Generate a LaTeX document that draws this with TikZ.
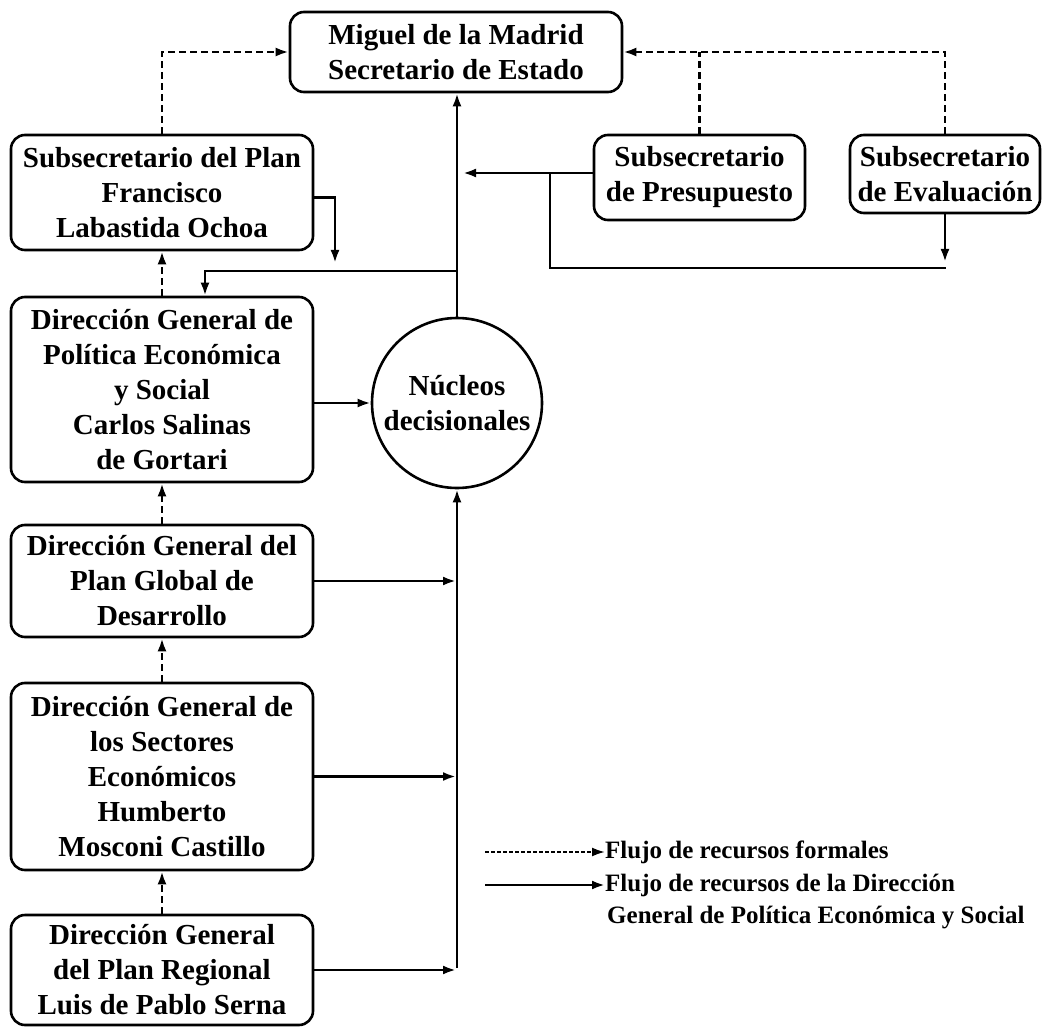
\documentclass[tikz,border=0pt]{standalone}
\usepackage{fontspec}
\setmainfont{Liberation Serif}
\usetikzlibrary{arrows.meta}

\begin{document}
\begin{tikzpicture}[x=1pt,y=-1pt,
  box/.style={draw, line width=2.6pt, rounded corners=14pt, align=center,
    inner sep=0pt, font=\bfseries\fontsize{29}{35}\selectfont},
  leftbox/.style={box, minimum width=302pt},
  flow/.style={line width=2.6pt, -{Latex[length=13pt,width=9pt]}},
  formal/.style={flow, dash pattern=on 7pt off 4pt},
  legend/.style={anchor=west, inner sep=0pt, font=\bfseries\fontsize{25}{33}\selectfont},
]
\useasboundingbox (0,0) rectangle (1042,1027);

% Secretary and undersecretaries
\node[box, minimum width=332pt, minimum height=80pt] (sec) at (456,52)
  {Miguel de la Madrid\\Secretario de Estado};
\node[leftbox, minimum height=115pt] (subplan) at (162,192.5)
  {Subsecretario del Plan\\Francisco\\Labastida Ochoa};
\node[box, minimum width=211pt, minimum height=85pt] (presup) at (699.5,177.5)
  {Subsecretario\\de Presupuesto};
\node[box, minimum width=190pt, minimum height=78pt] (evalua) at (945,174)
  {Subsecretario\\de Evaluación};

% General directorates
\node[leftbox, minimum height=185pt] (dgpol) at (162,389.5)
  {Dirección General de\\Política Económica\\y Social\\Carlos Salinas\\de Gortari};
\node[leftbox, minimum height=112pt] (dgglob) at (162,581)
  {Dirección General del\\Plan Global de\\Desarrollo};
\node[leftbox, minimum height=187pt] (dgsect) at (162,776.5)
  {Dirección General de\\los Sectores\\Económicos\\Humberto\\Mosconi Castillo};
\node[leftbox, minimum height=110pt] (dgreg) at (162,970)
  {Dirección General\\del Plan Regional\\Luis de Pablo Serna};

% Decision core
\node[draw, circle, line width=2.6pt, minimum size=170pt, inner sep=0pt, align=center,
  font=\bfseries\fontsize{29}{35}\selectfont] (nucleos) at (457,403)
  {Núcleos\\decisionales};

% Auxiliary points of the wiring
\coordinate (j1) at (457,271);
\coordinate (c205) at (205,0);
\coordinate (t1) at (335,263);
\coordinate (t2) at (463,173);
\coordinate (j2) at (550,173);
\coordinate (e1) at (946,268);
\coordinate (t3) at (945,262);
\coordinate (bus) at (457,968);

% Formal resource flows
\draw[formal] (subplan.north) |- (sec.west);
\draw[formal] (evalua.north) |- (sec.east);
\draw[line width=2.6pt, dash pattern=on 7pt off 4pt] (presup.north) -- (presup.north |- sec.east);
\draw[formal] (dgpol.north) -- (subplan.south);
\draw[formal] (dgglob.north) -- (dgpol.south);
\draw[formal] (dgsect.north) -- (dgglob.south);
\draw[formal] (dgreg.north) -- (dgsect.south);

% Flows of the Dirección General de Política Económica y Social
\draw[flow] (nucleos.north) -- (nucleos.north |- sec.south);
\draw[flow] (j1) -| (dgpol.north -| c205);
\draw[flow] ([yshift=-5pt]subplan.east) -| (t1);
\draw[flow] (presup.west |- t2) -- (t2);
\draw[line width=2.6pt] (j2) |- (e1);
\draw[flow] (evalua.south) -- (t3);
\draw[flow] (dgpol.east |- nucleos.west) -- (nucleos.west);
\draw[flow] (bus) -- (nucleos.south);
\draw[flow, shorten >=1pt] (dgglob.east) -- (dgglob.east -| bus);
\draw[flow, shorten >=1pt] (dgsect.east) -- (dgsect.east -| bus);
\draw[flow, shorten >=1pt] (dgreg.east) -- (dgreg.east -| bus);

% Legend
\node[legend] (l1) at (605,852) {Flujo de recursos formales};
\node[legend] (l2) at (605,885) {Flujo de recursos de la Dirección};
\node[legend] (l3) at (607,918) {General de Política Económica y Social};
\coordinate (ls1) at (485,852);
\coordinate (ls2) at (485,885);
\draw[formal, line width=2pt, dash pattern=on 4pt off 2pt] (ls1) -- (l1.west);
\draw[flow] (ls2) -- (l2.west);
\end{tikzpicture}
\end{document}
